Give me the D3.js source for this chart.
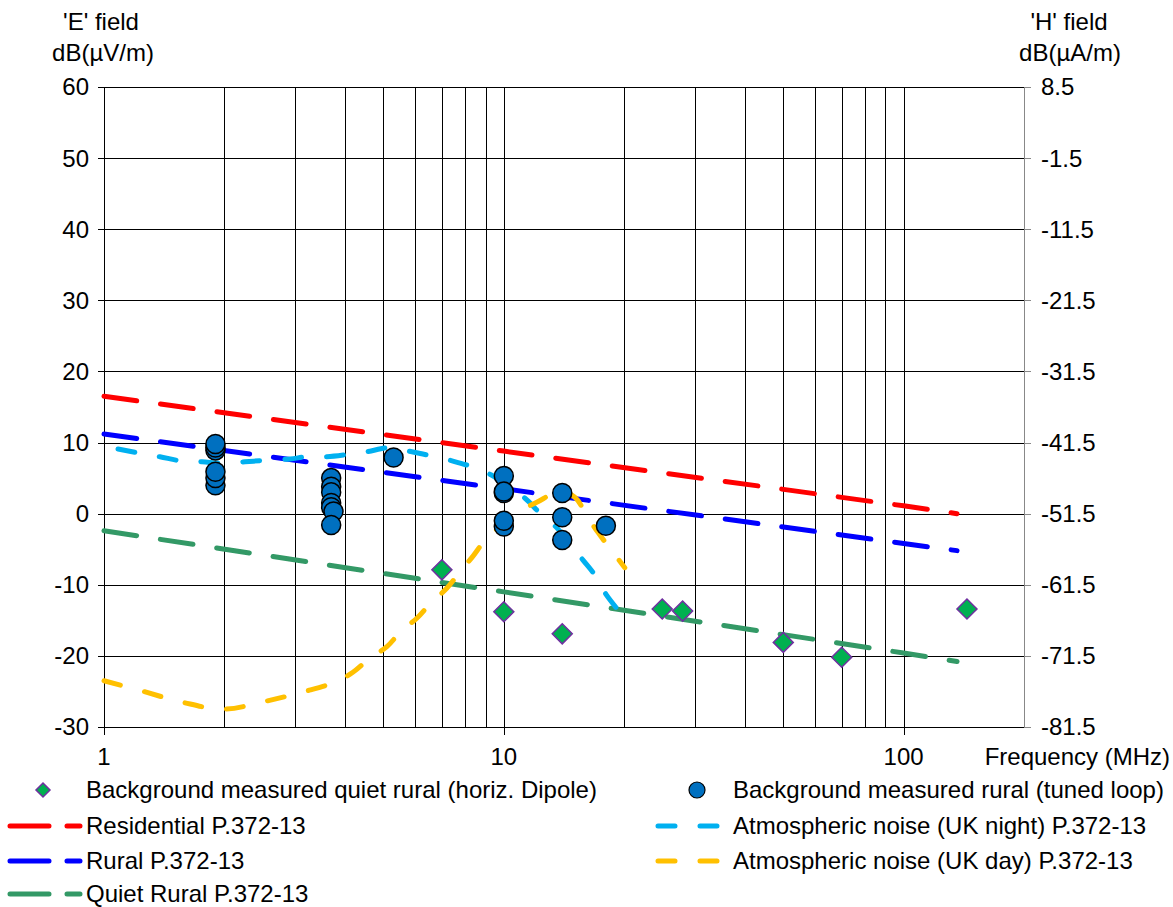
<!DOCTYPE html>
<html><head><meta charset="utf-8">
<script src="https://cdn.jsdelivr.net/npm/d3@7"></script>
<style>
body{margin:0;background:#fff;}
text{font-family:"Liberation Sans",Arial,sans-serif;fill:#000;}
</style></head>
<body><svg id="c" width="1173" height="907"></svg>
<script>
// ---- data ----
const eTicks = [60,50,40,30,20,10,0,-10,-20,-30];
const hTicks = ["8.5","-1.5","-11.5","-21.5","-31.5","-41.5","-51.5","-61.5","-71.5","-81.5"];
const xMajor = [1,10,100];
const xGrid = [2,3,4,5,6,7,8,9,10,20,30,40,50,60,70,80,90,100];

const dipoleF = [7,10,14,24.9,28,50,70,144];
const dipoleE = [-7.9,-13.8,-16.9,-13.4,-13.7,-18.1,-20.2,-13.4];

const loopF = [1.9,1.9,1.9,1.9,1.9,1.9, 3.7,3.7,3.7,3.7,3.7,3.75,3.7, 5.3, 10,10,10,10,10, 14,14,14, 18];
const loopE = [8.9,9.3,9.8,4.0,5.0,5.9, 5.0,3.8,3.0,1.5,0.9,0.3,-1.6, 7.9, 5.3,2.9,3.1,-1.8,-1.0, 2.9,-0.5,-3.7, -1.7];

const p372F = [1,10,100,136];
const residentialE = [16.5,8.8,1.1,0.0];
const ruralE = [11.2,3.5,-4.2,-5.2];
const quietRuralE = [-2.4,-11.0,-19.6,-20.8];

const nightF = [1.084,1.23,1.38,1.567,1.758,1.984,2.252,2.526,2.917,3.218,3.61,4.05,4.545,5.188,5.888,6.607,7.456,8.318,9.333,11.28,12.3,13.57,15.76,16.88,18.09,19.28];
const nightE = [9.1,8.5,8.0,7.4,7.3,7.1,7.3,7.5,7.7,8.0,8.0,8.3,8.7,9.3,8.7,8.1,7.4,6.6,5.4,2.2,0.1,-2.0,-6.5,-8.6,-11.5,-13.5];

const dayF = [1,1.237,1.567,1.984,2.526,3.181,3.779,4.193,4.624,5.1,5.559,6.06,6.607,7.2,7.762,8.366,9.07,9.77,10.84,12.09,13.8,15.05,16.22,17.18,18.73,20.07];
const dayE = [-23.5,-24.9,-26.5,-27.5,-26.4,-25.0,-23.7,-22.3,-20.3,-18.7,-16.4,-14.7,-12.4,-10.5,-8.2,-6.0,-3.4,-1.9,0.2,1.6,3.1,2.3,-0.5,-2.6,-5.4,-7.6];

// ---- chart ----
const svg = d3.select("#c");
const L=104,R=1024,T=87,B=727;
const x = d3.scaleLog().domain([1,200]).range([L,R]);
const y = d3.scaleLinear().domain([-30,60]).range([B,T]);
const yH = d3.scaleLinear().domain([-81.5,8.5]).range([B,T]);
const FS = 24;

const g = svg.append("g");
// horizontal grid
g.selectAll(".hg").data(eTicks).join("line")
 .attr("x1",L-6).attr("x2",R).attr("y1",d=>Math.round(y(d))+0.5).attr("y2",d=>Math.round(y(d))+0.5)
 .attr("stroke","#000").attr("stroke-width",1);
// right ticks
g.selectAll(".rt").data(eTicks).join("line")
 .attr("x1",R).attr("x2",R+7).attr("y1",d=>Math.round(y(d))+0.5).attr("y2",d=>Math.round(y(d))+0.5)
 .attr("stroke","#888").attr("stroke-width",1);
// vertical grid
g.selectAll(".vg").data(xGrid).join("line")
 .attr("x1",d=>Math.round(x(d))+0.5).attr("x2",d=>Math.round(x(d))+0.5).attr("y1",T).attr("y2",B)
 .attr("stroke","#000").attr("stroke-width",1);
// major ticks bottom
g.selectAll(".mt").data(xMajor).join("line")
 .attr("x1",d=>Math.round(x(d))+0.5).attr("x2",d=>Math.round(x(d))+0.5).attr("y1",T).attr("y2",B+8)
 .attr("stroke","#000").attr("stroke-width",1);
// axes lines
g.append("line").attr("x1",L+0.5).attr("x2",L+0.5).attr("y1",T).attr("y2",B+8).attr("stroke","#000");
g.append("line").attr("x1",R+0.5).attr("x2",R+0.5).attr("y1",T).attr("y2",B+0.5).attr("stroke","#888");
g.append("line").attr("x1",L).attr("x2",R).attr("y1",B+0.5).attr("y2",B+0.5).attr("stroke","#000");

// tick labels
g.selectAll(".yl").data(eTicks).join("text")
 .attr("x",89).attr("y",d=>y(d)).attr("dy","0.35em").attr("text-anchor","end").attr("font-size",FS).text(d=>d);
g.selectAll(".hl").data(hTicks).join("text")
 .attr("x",1041).attr("y",(d,i)=>yH(+d)).attr("dy","0.35em").attr("font-size",FS).text(d=>d);
g.selectAll(".xl").data(xMajor).join("text")
 .attr("x",d=>x(d)).attr("y",757).attr("dy","0.35em").attr("text-anchor","middle").attr("font-size",FS).text(d=>d);
g.append("text").attr("x",1170).attr("y",757).attr("dy","0.35em").attr("text-anchor","end").attr("font-size",FS).text("Frequency (MHz)");

// titles
const tit = (cx,cy,t)=>g.append("text").attr("x",cx).attr("y",cy).attr("dy","0.35em").attr("text-anchor","middle").attr("font-size",FS).text(t);
tit(101,22,"'E' field"); tit(103,53,"dB(\u00b5V/m)");
tit(1069,22,"'H' field"); tit(1070,53,"dB(\u00b5A/m)");

// lines
const line = d3.line().x(d=>x(d[0])).y(d=>y(d[1]));
const smooth = d3.line().x(d=>x(d[0])).y(d=>y(d[1])).curve(d3.curveCatmullRom.alpha(0.5));
const zip=(a,b)=>a.map((v,i)=>[v,b[i]]);
const longDash="33,24", shortDash="17,25";
const series = [
 {d:zip(p372F,residentialE), c:"#FF0000", dash:longDash, gen:line},
 {d:zip(p372F,ruralE), c:"#0000FF", dash:longDash, gen:line},
 {d:zip(p372F,quietRuralE), c:"#339966", dash:longDash, gen:line},
 {d:zip(nightF,nightE), c:"#00B0F0", dash:shortDash, gen:smooth},
 {d:zip(dayF,dayE), c:"#FFC000", dash:shortDash, gen:smooth}
];
series.forEach(s=>{
 g.append("path").attr("d",s.gen(s.d)).attr("fill","none").attr("stroke",s.c)
  .attr("stroke-width",5).attr("stroke-dasharray",s.dash).attr("stroke-linecap","round");
});

// markers
g.selectAll(".lp").data(zip(loopF,loopE)).join("circle")
 .attr("cx",d=>x(d[0])).attr("cy",d=>y(d[1])).attr("r",9.5)
 .attr("fill","#0070C0").attr("stroke","#000").attr("stroke-width",1.5);
const diamond=(s)=>`M0,${-s}L${s},0L0,${s}L${-s},0Z`;
g.selectAll(".dp").data(zip(dipoleF,dipoleE)).join("path")
 .attr("transform",d=>`translate(${x(d[0])},${y(d[1])})`).attr("d",diamond(10))
 .attr("fill","#00B050").attr("stroke","#7030A0").attr("stroke-width",1.5);

// legend
const lg = svg.append("g");
const ltxt=(tx,ty,t)=>lg.append("text").attr("x",tx).attr("y",ty).attr("dy","0.35em").attr("font-size",FS).text(t);
lg.append("path").attr("transform","translate(43,790)").attr("d",diamond(7)).attr("fill","#00B050").attr("stroke","#7030A0").attr("stroke-width",1.5);
ltxt(86,790,"Background measured quiet rural (horiz. Dipole)");
lg.append("circle").attr("cx",697).attr("cy",790).attr("r",8).attr("fill","#0070C0").attr("stroke","#000").attr("stroke-width",1.2);
ltxt(733,790,"Background measured rural (tuned loop)");
const legL=[["Residential P.372-13","#FF0000",826],["Rural P.372-13","#0000FF",861],["Quiet Rural P.372-13","#339966",894]];
legL.forEach(([t,c,yy])=>{
 lg.append("line").attr("x1",10).attr("x2",80).attr("y1",yy).attr("y2",yy).attr("stroke",c).attr("stroke-width",5)
  .attr("stroke-linecap","round").attr("stroke-dasharray","39,18");
 ltxt(86,yy,t);
});
const legR=[["Atmospheric noise (UK night) P.372-13","#00B0F0",826],["Atmospheric noise (UK day) P.372-13","#FFC000",861]];
legR.forEach(([t,c,yy])=>{
 lg.append("line").attr("x1",658).attr("x2",718).attr("y1",yy).attr("y2",yy).attr("stroke",c).attr("stroke-width",5)
  .attr("stroke-linecap","round").attr("stroke-dasharray","17,25");
 ltxt(733,yy,t);
});
</script></body></html>
